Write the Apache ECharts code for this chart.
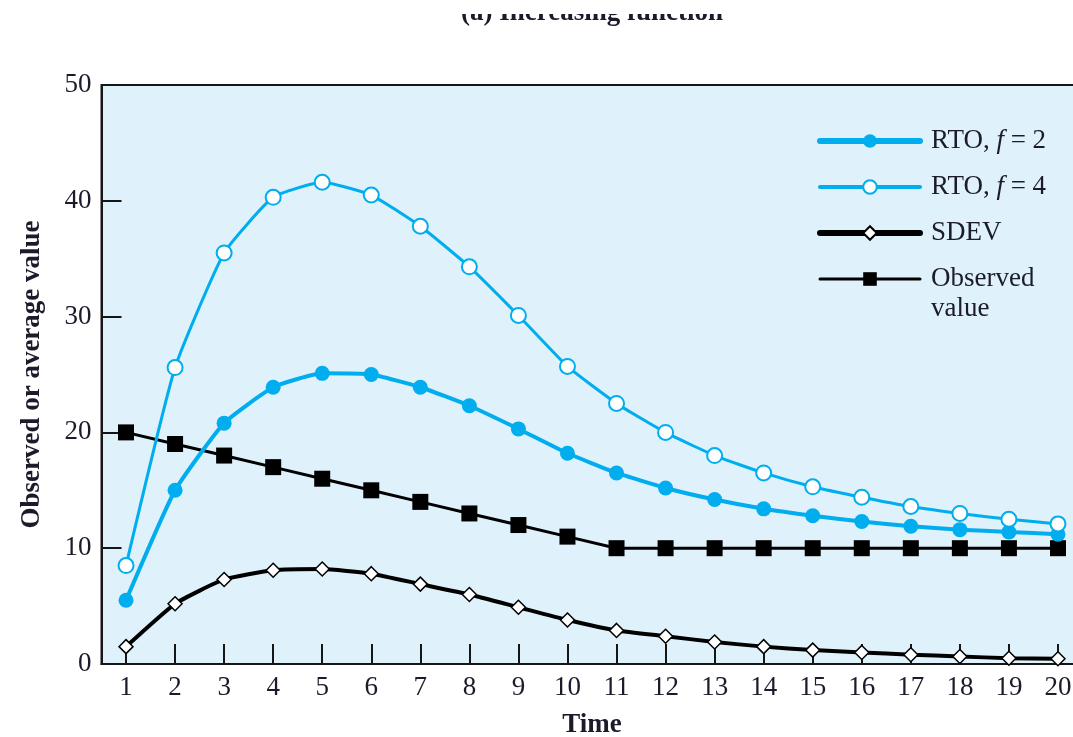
<!DOCTYPE html>
<html>
<head>
<meta charset="utf-8">
<title>RTO estimates — increasing function</title>
<script src="https://cdn.jsdelivr.net/npm/echarts@6/dist/echarts.min.js"></script>
<style>
  html, body { margin: 0; padding: 0; background: #ffffff; }
  #chart { width: 1073px; height: 737px; }
</style>
</head>
<body>
<div id="chart"></div>
<script>
// Time steps 1..20
const timeSteps = ['1','2','3','4','5','6','7','8','9','10','11','12','13','14','15','16','17','18','19','20'];

// Retransmission timeout with deviation factor f = 2
const rtoF2 = [5.5, 15.0, 20.8, 23.9, 25.1, 25.0, 23.9, 22.3, 20.3, 18.2, 16.5, 15.2, 14.2, 13.4, 12.8, 12.3, 11.9, 11.6, 11.4, 11.2];

// Retransmission timeout with deviation factor f = 4
const rtoF4 = [8.5, 25.6, 35.5, 40.3, 41.6, 40.5, 37.8, 34.3, 30.1, 25.7, 22.5, 20.0, 18.0, 16.5, 15.3, 14.4, 13.6, 13.0, 12.5, 12.1];

// Smoothed mean deviation
const sdev = [1.5, 5.2, 7.3, 8.1, 8.2, 7.8, 6.9, 6.0, 4.9, 3.8, 2.9, 2.4, 1.9, 1.5, 1.2, 1.0, 0.8, 0.65, 0.5, 0.45];

// Observed round-trip values
const observed = [20, 19, 18, 17, 16, 15, 14, 13, 12, 11, 10, 10, 10, 10, 10, 10, 10, 10, 10, 10];

const yTicks = { min: 0, max: 50, interval: 10 };

const SERIF = '"Liberation Serif", "DejaVu Serif", serif';
const BLUE = '#00ADEE';
const INK = '#1b1b2b';
const FS = 27;

const chart = echarts.init(document.getElementById('chart'), null, { renderer: 'canvas' });

chart.setOption({
  animation: false,
  backgroundColor: '#ffffff',
  graphic: [
    {
      type: 'text',
      x: 592,
      y: 0,
      z: 10,
      style: {
        text: '(a) Increasing function',
        font: 'bold 27px ' + SERIF,
        fill: INK,
        textAlign: 'center',
        textVerticalAlign: 'top'
      }
    },
    {
      // plain white header band over the caption's upper part
      type: 'rect',
      shape: { x: 0, y: 0, width: 1073, height: 14 },
      z: 11,
      style: { fill: '#ffffff' }
    }
  ],
  grid: {
    left: 101.5,
    top: 85,
    width: 981,
    height: 579,
    outerBoundsMode: 'none',
    containLabel: false,
    show: true,
    backgroundColor: '#DFF1FB',
    borderColor: '#161616',
    borderWidth: 2
  },
  legend: {
    orient: 'vertical',
    left: 812,
    top: 121,
    itemWidth: 100,
    itemHeight: 17,
    itemGap: 16,
    textStyle: {
      fontFamily: SERIF,
      fontSize: FS,
      lineHeight: 30,
      color: INK,
      padding: [0, 0, 0, 6],
      rich: {
        i: { fontFamily: SERIF, fontSize: FS, fontStyle: 'italic', color: INK, lineHeight: 30 }
      }
    },
    formatter: function (name) {
      if (name === 'RTO, f = 2') return 'RTO, {i|f} = 2';
      if (name === 'RTO, f = 4') return 'RTO, {i|f} = 4';
      if (name === 'Observed value') return 'Observed\nvalue';
      return name;
    },
    data: [
      { name: 'RTO, f = 2', lineStyle: { width: 6, cap: 'round' } },
      { name: 'RTO, f = 4', lineStyle: { width: 4, cap: 'round' } },
      { name: 'SDEV', lineStyle: { width: 6, cap: 'round' } },
      { name: 'Observed value', lineStyle: { width: 3, cap: 'round' }, textStyle: { padding: [0, 0, -30, 6] } }
    ]
  },
  xAxis: {
    type: 'category',
    data: timeSteps,
    boundaryGap: true,
    name: 'Time',
    nameLocation: 'middle',
    nameGap: 48,
    nameTextStyle: { fontFamily: SERIF, fontSize: FS, fontWeight: 'bold', color: INK },
    axisLine: { lineStyle: { color: '#161616', width: 2 } },
    axisTick: { show: true, inside: true, length: 20, alignWithLabel: true, interval: 0, lineStyle: { color: '#161616', width: 2 } },
    axisLabel: { interval: 0, margin: 10, fontFamily: SERIF, fontSize: FS, color: INK },
    splitLine: { show: false }
  },
  yAxis: {
    type: 'value',
    min: yTicks.min,
    max: yTicks.max,
    interval: yTicks.interval,
    name: 'Observed or average value',
    nameLocation: 'middle',
    nameGap: 56,
    nameTextStyle: { fontFamily: SERIF, fontSize: FS, fontWeight: 'bold', color: INK },
    axisLine: { show: true, lineStyle: { color: '#161616', width: 2 } },
    axisTick: { show: true, inside: true, length: 20, lineStyle: { color: '#161616', width: 2 } },
    axisLabel: { margin: 10, fontFamily: SERIF, fontSize: FS, color: INK },
    splitLine: { show: false }
  },
  series: [
    {
      name: 'Observed value',
      type: 'line',
      data: observed,
      smooth: false,
      symbol: 'rect',
      symbolSize: 16,
      lineStyle: { color: '#000000', width: 3 },
      itemStyle: { color: '#000000' },
      z: 2
    },
    {
      name: 'SDEV',
      type: 'line',
      data: sdev,
      smooth: 0.15,
      symbol: 'diamond',
      symbolSize: 14,
      lineStyle: { color: '#000000', width: 4 },
      itemStyle: { color: '#ffffff', borderColor: '#000000', borderWidth: 1.5 },
      z: 3
    },
    {
      name: 'RTO, f = 2',
      type: 'line',
      data: rtoF2,
      smooth: 0.15,
      symbol: 'circle',
      symbolSize: 15,
      lineStyle: { color: BLUE, width: 4 },
      itemStyle: { color: BLUE },
      z: 4
    },
    {
      name: 'RTO, f = 4',
      type: 'line',
      data: rtoF4,
      smooth: 0.15,
      symbol: 'circle',
      symbolSize: 15,
      lineStyle: { color: BLUE, width: 3 },
      itemStyle: { color: '#ffffff', borderColor: BLUE, borderWidth: 2 },
      z: 5
    }
  ]
});
</script>
</body>
</html>
